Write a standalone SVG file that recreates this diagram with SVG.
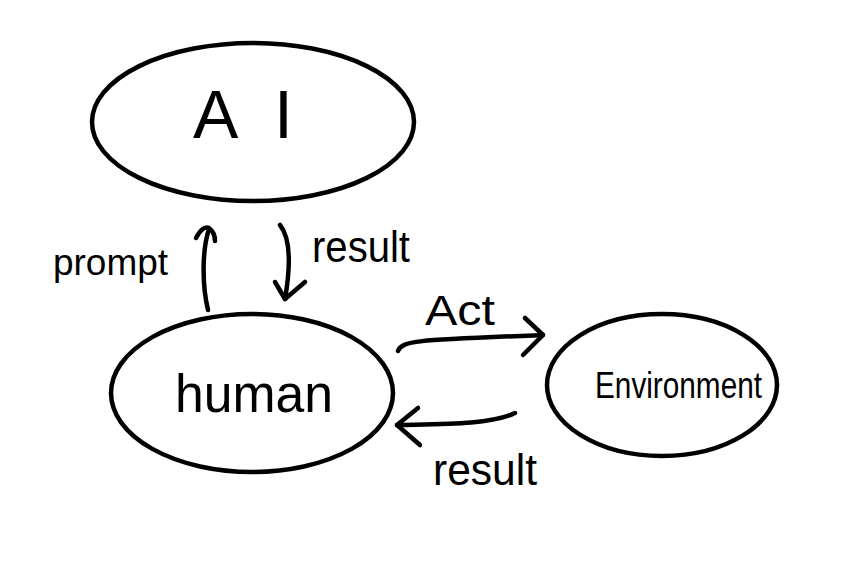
<svg xmlns="http://www.w3.org/2000/svg" width="856" height="566" viewBox="0 0 856 566">
<style>
.node{fill:none;stroke:#000;stroke-width:4.5}
.edge{fill:none;stroke:#000;stroke-width:4.5;stroke-linecap:round;stroke-linejoin:round}
text{font-family:"Liberation Sans","DejaVu Sans",sans-serif;fill:#000}
</style>
<rect width="856" height="566" fill="#fff"/>
<g id="ai">
<ellipse class="node" cx="253" cy="122" rx="161" ry="79"/>
<text x="243" y="138" font-size="68" text-anchor="middle" textLength="100" lengthAdjust="spacing">AI</text>
</g>
<g id="human">
<ellipse class="node" cx="252" cy="393" rx="141" ry="79"/>
<text x="175" y="412" font-size="54" textLength="158" lengthAdjust="spacingAndGlyphs">human</text>
</g>
<g id="environment">
<ellipse class="node" cx="662" cy="385" rx="115" ry="71"/>
<text x="595" y="398" font-size="36" textLength="167" lengthAdjust="spacingAndGlyphs">Environment</text>
</g>
<g id="connectors">
<path class="edge" d="M208,310 C202,285 202,250 209,229"/>
<path class="edge" d="M196,238 C200,230 205,226 209,228 C213,231 215,236 215,241"/>
<path class="edge" d="M280,225 C292,240 290,270 285,299"/>
<path class="edge" d="M275,282 L285,299 L305,282"/>
<path class="edge" d="M398,351 C402,340 420,340 543,335"/>
<path class="edge" d="M525,318 L543,335 L523,355"/>
<path class="edge" d="M515,413 C490,425 440,424 397,425"/>
<path class="edge" d="M418,408 L397,425 L420,445"/>
</g>
<g id="labels">
<text x="53" y="275" font-size="36" textLength="115" lengthAdjust="spacingAndGlyphs">prompt</text>
<text x="312" y="262" font-size="44" textLength="98" lengthAdjust="spacingAndGlyphs">result</text>
<text x="425" y="325" font-size="42" textLength="70" lengthAdjust="spacingAndGlyphs">Act</text>
<text x="433" y="485" font-size="44" textLength="104" lengthAdjust="spacingAndGlyphs">result</text>
</g>
</svg>
